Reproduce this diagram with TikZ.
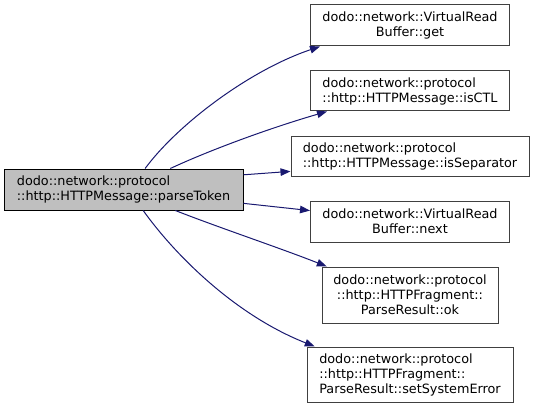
\documentclass[tikz,border=0pt]{standalone}
\usepackage{fontspec}
\setmainfont{DejaVu Sans}
\usetikzlibrary{arrows.meta,calc}
\definecolor{edgeblue}{HTML}{191970}
\definecolor{mainfill}{HTML}{BFBFBF}
\definecolor{boxline}{HTML}{404040}
\begin{document}
\begin{tikzpicture}[x=1pt,y=-1pt,
  box/.style={draw=boxline, fill=white, line width=1pt, inner sep=0pt,
    font=\fontsize{12.8}{15}\selectfont},
  mainbox/.style={box, draw=black, fill=mainfill},
  edge/.style={draw=edgeblue, line width=1pt, -{Triangle[length=10pt,width=7.5pt]}}]
\useasboundingbox (0,0) rectangle (535,409);
\node[mainbox, minimum width=239pt, minimum height=41pt, align=left] (main) at (123.5,189.5)
  {dodo::network::protocol\\::http::HTTPMessage::parseToken};
\node[box, minimum width=199pt, minimum height=41pt, align=center] (n1) at (410,25.5)
  {dodo::network::VirtualRead\\Buffer::get};
\node[box, minimum width=199pt, minimum height=40pt, align=left] (n2) at (410,91)
  {dodo::network::protocol\\::http::HTTPMessage::isCTL};
\node[box, minimum width=238pt, minimum height=40pt, align=left] (n3) at (410,156)
  {dodo::network::protocol\\::http::HTTPMessage::isSeparator};
\node[box, minimum width=199pt, minimum height=41pt, align=center] (n4) at (410,221.5)
  {dodo::network::VirtualRead\\Buffer::next};
\node[box, minimum width=176pt, minimum height=56pt, align=center] (n5) at (410,295)
  {dodo::network::protocol\\::http::HTTPFragment::\\ParseResult::ok};
\node[box, minimum width=206pt, minimum height=55pt, align=left] (n6) at (410,374.5)
  {dodo::network::protocol\\::http::HTTPFragment::\\ParseResult::setSystemError};
\draw[edge] ($(main.north west)!0.59!(main.north east)$) .. controls (178,124) and (250,70) .. ($(n1.south west)!0.05!(n1.south east)$);
\draw[edge] ($(main.north west)!0.695!(main.north east)$) .. controls (210,150) and (270,128) .. ($(n2.south west)!0.085!(n2.south east)$);
\draw[edge] ($(main.north east)!0.15!(main.south east)$) -- ($(n3.north west)!0.875!(n3.south west)$);
\draw[edge] ($(main.north east)!0.83!(main.south east)$) -- ($(n4.north west)!0.24!(n4.south west)$);
\draw[edge] ($(main.south west)!0.716!(main.south east)$) .. controls (220,228) and (280,248) .. ($(n5.north west)!0.03!(n5.north east)$);
\draw[edge] ($(main.south west)!0.582!(main.south east)$) .. controls (175,255) and (235,315) .. ($(n6.north west)!0.04!(n6.north east)$);
\end{tikzpicture}
\end{document}
